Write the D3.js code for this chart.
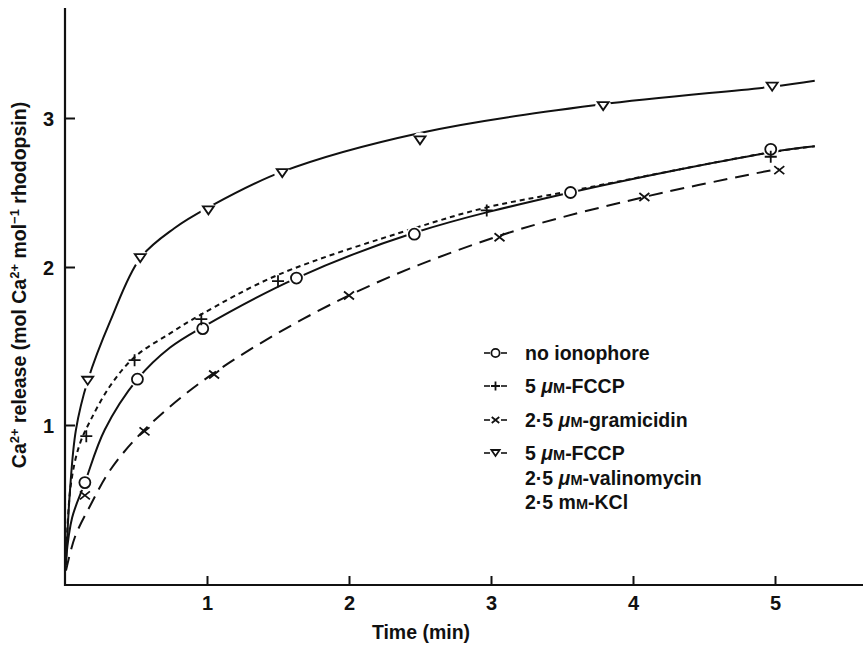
<!DOCTYPE html>
<html>
<head>
<meta charset="utf-8">
<script src="https://cdn.jsdelivr.net/npm/d3@7"></script>
<style>
  body { margin: 0; background: #fff; }
  svg { display: block; }
  text { font-family: "Liberation Sans", Arial, Helvetica, sans-serif; font-weight: bold; fill: #111; }
  .axis text { font-size: 20px; }
  .axis line { stroke: #111; stroke-width: 2; }
  .leyenda { font-size: 19.5px; }
</style>
</head>
<body>
<div id="chart-area"></div>
<script>
// Ejes
var timeTicks = [1, 2, 3, 4, 5];
var releaseTicks = [1, 2, 3];

// Puntos medidos [min, mol Ca2+/mol rhodopsin]
var noIonophorePts = [[0.14, 0.64], [0.51, 1.29], [0.97, 1.61], [1.63, 1.93], [2.46, 2.22], [3.56, 2.50], [4.97, 2.79]];
var fccpPts = [[0.15, 0.93], [0.49, 1.41], [0.96, 1.67], [1.50, 1.91], [2.97, 2.38], [4.97, 2.74]];
var gramicidinPts = [[0.14, 0.56], [0.56, 0.96], [1.05, 1.32], [2.00, 1.82], [3.06, 2.20], [4.08, 2.47], [5.03, 2.65]];
var valinomycinPts = [[0.16, 1.28], [0.53, 2.06], [1.01, 2.38], [1.53, 2.63], [2.50, 2.85], [3.79, 3.08], [4.98, 3.21]];

// Curvas ajustadas (a ojo)
var noIonophoreCurve = [[0.007, 0.16], [0.05, 0.42], [0.14, 0.64], [0.28, 0.97], [0.51, 1.29], [0.74, 1.49], [0.97, 1.62], [1.63, 1.93], [2.46, 2.23], [3.56, 2.50], [4.97, 2.77], [5.28, 2.81]];
var fccpCurve = [[0.007, 0.16], [0.04, 0.62], [0.10, 0.87], [0.18, 1.03], [0.32, 1.25], [0.49, 1.43], [0.74, 1.58], [0.96, 1.70], [1.50, 1.95], [2.46, 2.26], [2.97, 2.40], [3.56, 2.51], [4.97, 2.77], [5.28, 2.81]];
var gramicidinCurve = [[0.007, 0.09], [0.07, 0.30], [0.18, 0.50], [0.32, 0.72], [0.56, 0.97], [1.05, 1.33], [2.00, 1.82], [3.06, 2.21], [4.08, 2.47], [5.03, 2.66]];
var valinomycinCurve = [[0.007, 0.125], [0.035, 0.59], [0.077, 0.97], [0.16, 1.28], [0.32, 1.66], [0.53, 2.06], [0.77, 2.26], [1.01, 2.40], [1.53, 2.64], [2.50, 2.90], [3.77, 3.09], [4.98, 3.21], [5.28, 3.25]];

var legendLabels = ["no ionophore", "5 μM-FCCP", "2·5 μM-gramicidin", "5 μM-FCCP", "2·5 μM-valinomycin", "2·5 mM-KCl"];

var width = 863, height = 646;

var xScale = d3.scaleLinear().domain([0, 5]).range([65, 775]);
// la escala del original no es del todo lineal: tramos por marca
var yScale = d3.scaleLinear().domain([0, 1, 2, 3]).range([585, 425, 267, 118]);

var svg = d3.select("#chart-area").append("svg")
    .attr("width", width)
    .attr("height", height);

// Ejes
var bottomAxis = d3.axisBottom(xScale).tickValues(timeTicks).tickSize(-9).tickPadding(11).tickFormat(d3.format("d"));
var leftAxis = d3.axisLeft(yScale).tickValues(releaseTicks).tickSize(-10).tickPadding(11).tickFormat(d3.format("d"));

var gx = svg.append("g").attr("class", "axis").attr("transform", "translate(0," + yScale(0) + ")").call(bottomAxis);
var gy = svg.append("g").attr("class", "axis").attr("transform", "translate(" + xScale(0) + ",0)").call(leftAxis);
gx.select(".domain").remove();
gy.select(".domain").remove();
gy.selectAll("text").attr("dy", "0.36em");

svg.append("line").attr("x1", xScale(0) - 1).attr("x2", width).attr("y1", yScale(0)).attr("y2", yScale(0))
    .attr("stroke", "#111").attr("stroke-width", 2.2);
svg.append("line").attr("x1", xScale(0)).attr("x2", xScale(0)).attr("y1", yScale(0) + 1).attr("y2", 8)
    .attr("stroke", "#111").attr("stroke-width", 2.2);

// Curvas
var line = d3.line()
    .x(function(d){ return xScale(d[0]); })
    .y(function(d){ return yScale(d[1]); })
    .curve(d3.curveCatmullRom.alpha(0.5));

var series = [
  {curve: valinomycinCurve, pts: valinomycinPts, dash: null, sym: "tri"},
  {curve: noIonophoreCurve, pts: noIonophorePts, dash: null, sym: "circle"},
  {curve: fccpCurve, pts: fccpPts, dash: "5,4", sym: "plus"},
  {curve: gramicidinCurve, pts: gramicidinPts, dash: "14,8", sym: "cross"}
];

series.forEach(function(s){
  svg.append("path")
    .datum(s.curve)
    .attr("d", line)
    .attr("fill", "none")
    .attr("stroke", "#111")
    .attr("stroke-width", 2)
    .attr("stroke-dasharray", s.dash);
});

function drawSymbol(g, sym, cx, cy, big) {
  var k = big ? 1 : 0.75;
  if (sym === "circle") {
    g.append("circle").attr("cx", cx).attr("cy", cy).attr("r", 5.5 * k)
      .attr("fill", "#fff").attr("stroke", "#111").attr("stroke-width", 1.8);
  } else if (sym === "tri") {
    var w = 5.5 * k, h = 8 * k;
    g.append("path")
      .attr("d", "M" + (cx - w) + "," + (cy - h / 2) + "L" + (cx + w) + "," + (cy - h / 2) + "L" + cx + "," + (cy + h / 2) + "Z")
      .attr("fill", "#fff").attr("stroke", "#111").attr("stroke-width", 1.8);
  } else if (sym === "plus") {
    var p = 6 * k;
    g.append("path").attr("d", "M" + (cx - p) + "," + cy + "H" + (cx + p) + "M" + cx + "," + (cy - p) + "V" + (cy + p))
      .attr("stroke", "#111").attr("stroke-width", 1.8);
  } else {
    var c = 5 * k;
    g.append("path").attr("d", "M" + (cx - c) + "," + (cy - c * 0.8) + "L" + (cx + c) + "," + (cy + c * 0.8) + "M" + (cx - c) + "," + (cy + c * 0.8) + "L" + (cx + c) + "," + (cy - c * 0.8))
      .attr("stroke", "#111").attr("stroke-width", 1.8);
  }
}

// Puntos
var marks = svg.append("g");
series.forEach(function(s){
  s.pts.forEach(function(d){
    var cx = xScale(d[0]), cy = yScale(d[1]);
    if (s.sym === "circle" || s.sym === "tri") {
      marks.append("circle").attr("cx", cx).attr("cy", cy).attr("r", 8).attr("fill", "#fff");
    }
    drawSymbol(marks, s.sym, cx, cy, true);
  });
});

// Leyenda
var legendSyms = ["circle", "plus", "cross", "tri", null, null];
var legendY = [353, 386, 420, 453, 478, 502];
var leg = svg.append("g");
legendLabels.forEach(function(lbl, i){
  var yy = legendY[i];
  if (legendSyms[i]) {
    leg.append("line").attr("x1", 484).attr("x2", 490).attr("y1", yy).attr("y2", yy).attr("stroke", "#111").attr("stroke-width", 1.6);
    leg.append("line").attr("x1", 501).attr("x2", 507).attr("y1", yy).attr("y2", yy).attr("stroke", "#111").attr("stroke-width", 1.6);
    drawSymbol(leg, legendSyms[i], 495.5, yy, false);
  }
  var t = leg.append("text").attr("class", "leyenda").attr("x", 525).attr("y", yy).attr("dy", "0.36em");
  // M en versalitas
  var parts = lbl.split("M-");
  if (parts.length > 1) {
    var pre = parts[0];
    var mu = pre.indexOf("μ") >= 0;
    t.append("tspan").text(mu ? pre.replace("μ", "") : pre);
    if (mu) t.append("tspan").attr("font-style", "italic").text("μ");
    t.append("tspan").attr("font-size", "14.5px").text("M");
    t.append("tspan").text("-" + parts[1]);
  } else {
    t.text(lbl);
  }
});

// Titulos
svg.append("text")
    .attr("class", "leyenda")
    .attr("x", 421).attr("y", 632).attr("dy", "0.36em")
    .attr("text-anchor", "middle")
    .text("Time (min)");

var yl = svg.append("text")
    .attr("class", "leyenda")
    .attr("text-anchor", "middle")
    .attr("transform", "translate(19,285) rotate(-90)")
    .attr("dy", "0.36em");
yl.append("tspan").text("Ca");
yl.append("tspan").attr("font-size", "13px").attr("dy", -7).text("2+");
yl.append("tspan").attr("dy", 7).text(" release (mol Ca");
yl.append("tspan").attr("font-size", "13px").attr("dy", -7).text("2+");
yl.append("tspan").attr("dy", 7).text(" mol");
yl.append("tspan").attr("font-size", "13px").attr("dy", -7).text("−1");
yl.append("tspan").attr("dy", 7).text(" rhodopsin)");
</script>
</body>
</html>
